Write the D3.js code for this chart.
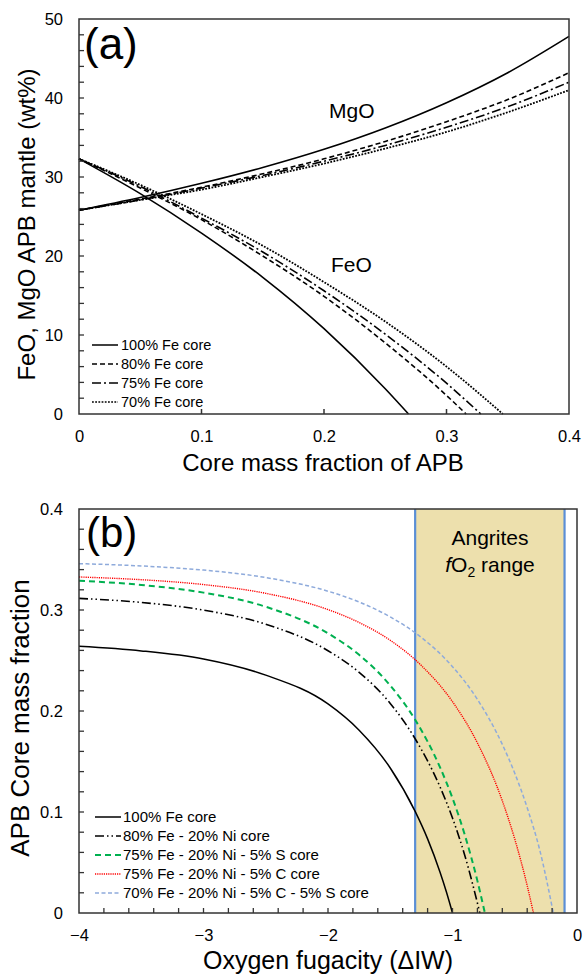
<!DOCTYPE html>
<html><head><meta charset="utf-8">
<script src="https://cdn.jsdelivr.net/npm/d3@7"></script>
<style>body{margin:0;background:#fff}svg{display:block}text{font-family:"Liberation Sans",Arial,sans-serif;fill:#000}</style>
</head><body>
<script>
// ---------- Panel (a) data ----------
const cmfA = [0, 0.05, 0.1, 0.15, 0.2, 0.25, 0.3, 0.35, 0.4];
const mgo100 = [25.8, 27.4, 29.2, 31.2, 33.5, 36.2, 39.4, 43.2, 47.8];
const mgo80  = [25.8, 27.2, 28.7, 30.4, 32.3, 34.5, 37.0, 39.8, 43.2];
const mgo75  = [25.8, 27.1, 28.6, 30.2, 32.0, 34.0, 36.3, 38.9, 42.0];
const mgo70  = [25.8, 27.1, 28.4, 30.0, 31.7, 33.6, 35.7, 38.2, 41.0];
const feoX100 = [0, 0.05, 0.1, 0.15, 0.2, 0.25, 0.269];
const feo100  = [32.3, 27.9, 22.9, 17.3, 10.8, 3.2, 0];
const feoX80  = [0, 0.05, 0.1, 0.15, 0.2, 0.25, 0.3, 0.316];
const feo80   = [32.3, 28.6, 24.6, 20.0, 14.9, 9.0, 2.35, 0];
const feoX75  = [0, 0.05, 0.1, 0.15, 0.2, 0.25, 0.3, 0.328];
const feo75   = [32.3, 28.8, 24.8, 20.5, 15.6, 10.1, 3.9, 0];
const feoX70  = [0, 0.05, 0.1, 0.15, 0.2, 0.25, 0.3, 0.346];
const feo70   = [32.3, 29.0, 25.3, 21.3, 16.7, 11.7, 6.0, 0];
const legendA = ["100% Fe core", "80% Fe core", "75% Fe core", "70% Fe core"];
const xTicksA = [0, 0.1, 0.2, 0.3, 0.4];
const yTicksA = [0, 10, 20, 30, 40, 50];

// ---------- Panel (b) data ----------
const iwX100 = [-4, -3.5, -3, -2.5, -2, -1.75, -1.5, -1.3, -1.2, -1.1, -1.05, -1.0];
const cmf100 = [0.264, 0.2595, 0.2515, 0.2355, 0.207, 0.181, 0.1436, 0.1006, 0.0734, 0.0404, 0.0213, 0];
const iwX80 = [-4, -3.5, -3, -2.5, -2, -1.75, -1.5, -1.3, -1.1, -1.0, -0.9, -0.78];
const cmf80 = [0.3115, 0.3075, 0.2999, 0.2859, 0.2597, 0.2383, 0.2075, 0.1725, 0.1248, 0.094, 0.0565, 0];
const iwX75S = [-4, -3.5, -3, -2.5, -2, -1.75, -1.5, -1.3, -1.1, -1.0, -0.9, -0.8, -0.74];
const cmf75S = [0.329, 0.3248, 0.3172, 0.3032, 0.2769, 0.2556, 0.2252, 0.1913, 0.1442, 0.1137, 0.0768, 0.0318, 0];
const iwX75C = [-4, -3.5, -3, -2.5, -2, -1.75, -1.5, -1.25, -1.0, -0.8, -0.6, -0.5, -0.4, -0.35];
const cmf75C = [0.3327, 0.330, 0.3252, 0.3165, 0.3004, 0.2876, 0.270, 0.245, 0.2092, 0.1684, 0.1111, 0.0732, 0.0271, 0];
const iwX70 = [-4, -3.5, -3, -2.5, -2, -1.75, -1.5, -1.25, -1.0, -0.8, -0.6, -0.5, -0.4, -0.3, -0.19];
const cmf70 = [0.3459, 0.3436, 0.3395, 0.3321, 0.3186, 0.3079, 0.2932, 0.2728, 0.2439, 0.2115, 0.167, 0.1384, 0.1042, 0.0627, 0];
const legendB = ["100% Fe core", "80% Fe - 20% Ni core", "75% Fe - 20% Ni - 5% S core",
                 "75% Fe - 20% Ni - 5% C core", "70% Fe - 20% Ni - 5% C - 5% S core"];
const angriteRange = [-1.3, -0.1];
const xTicksB = [-4, -3, -2, -1, 0];
const yTicksB = [0, 0.1, 0.2, 0.3, 0.4];

const W = 583, H = 975;
const svg = d3.select("body").append("svg").attr("width", W).attr("height", H);
const axisColor = "#333";
const tickFont = 16.5, titleFont = 24;

function zip(xs, ys) { return xs.map((x, i) => [x, ys[i]]); }

// ================= Panel (a) =================
const ax = d3.scaleLinear().domain([0, 0.4]).range([79, 569]);
const ay = d3.scaleLinear().domain([0, 50]).range([414, 19]);
const gA = svg.append("g");
const lineA = d3.line().x(d => ax(d[0])).y(d => ay(d[1])).curve(d3.curveMonotoneX);

const stylesA = [
  {dash: null, w: 1.6},
  {dash: "5,3", w: 1.6},
  {dash: "9,3,2,3", w: 1.6},
  {dash: "1.8,1.4", w: 1.8}
];
const mgoSets = [mgo100, mgo80, mgo75, mgo70];
const feoSets = [[feoX100, feo100], [feoX80, feo80], [feoX75, feo75], [feoX70, feo70]];
mgoSets.forEach((ys, i) => {
  gA.append("path").datum(zip(cmfA, ys)).attr("d", lineA).attr("fill", "none")
    .attr("stroke", "#000").attr("stroke-width", stylesA[i].w)
    .attr("stroke-dasharray", stylesA[i].dash);
});
feoSets.forEach((s, i) => {
  gA.append("path").datum(zip(s[0], s[1])).attr("d", lineA).attr("fill", "none")
    .attr("stroke", "#000").attr("stroke-width", stylesA[i].w)
    .attr("stroke-dasharray", stylesA[i].dash);
});

gA.append("rect").attr("x", ax(0)).attr("y", ay(50)).attr("width", ax(0.4) - ax(0)).attr("height", ay(0) - ay(50))
  .attr("fill", "none").attr("stroke", axisColor).attr("stroke-width", 1.5);

const xAxisA = d3.axisBottom(ax).tickValues(xTicksA).tickSize(0).tickPadding(16).tickFormat(d => d === 0 ? "0" : d3.format(".1f")(d));
const gxA = gA.append("g").attr("transform", `translate(0,${ay(0)})`).call(xAxisA);
gxA.select(".domain").remove();
gxA.selectAll("text").attr("font-size", tickFont).attr("font-family", '"Liberation Sans",Arial,sans-serif');
gA.selectAll(".xta").data(xTicksA.filter(d => d > 0 && d < 0.4)).enter().append("line")
  .attr("x1", d => ax(d)).attr("x2", d => ax(d)).attr("y1", ay(0)).attr("y2", ay(0) - 5)
  .attr("stroke", axisColor).attr("stroke-width", 1.5);

const yAxisA = d3.axisLeft(ay).tickValues(yTicksA).tickSize(0).tickPadding(16);
const gyA = gA.append("g").attr("transform", `translate(${ax(0)},0)`).call(yAxisA);
gyA.select(".domain").remove();
gyA.selectAll("text").attr("font-size", tickFont).attr("font-family", '"Liberation Sans",Arial,sans-serif');
gA.selectAll(".yta").data(d3.range(2, 50, 2)).enter().append("line")
  .attr("x1", ax(0)).attr("x2", ax(0) + 5).attr("y1", d => ay(d)).attr("y2", d => ay(d))
  .attr("stroke", axisColor).attr("stroke-width", 1.3);

gA.append("text").attr("x", 323).attr("y", 471).attr("text-anchor", "middle").attr("font-size", titleFont).text("Core mass fraction of APB");
gA.append("text").attr("transform", `translate(35,${(ay(0) + ay(50)) / 2 + 8}) rotate(-90)`).attr("text-anchor", "middle")
  .attr("font-size", titleFont).text("FeO, MgO APB mantle (wt%)");
gA.append("text").attr("x", 84).attr("y", 59).attr("font-size", 44).text("(a)");
gA.append("text").attr("x", 329).attr("y", 118).attr("font-size", 21).text("MgO");
gA.append("text").attr("x", 331).attr("y", 272).attr("font-size", 21).text("FeO");

legendA.forEach((t, i) => {
  const y = 345 + i * 19;
  gA.append("line").attr("x1", 92).attr("x2", 118).attr("y1", y).attr("y2", y)
    .attr("stroke", "#000").attr("stroke-width", 1.5).attr("stroke-dasharray", stylesA[i].dash);
  gA.append("text").attr("x", 121).attr("y", y + 5).attr("font-size", 14.5).text(t);
});

// ================= Panel (b) =================
const bx = d3.scaleLinear().domain([-4, 0]).range([79, 577]);
const by = d3.scaleLinear().domain([0, 0.4]).range([913, 509]);
const gB = svg.append("g");
const lineB = d3.line().x(d => bx(d[0])).y(d => by(d[1])).curve(d3.curveMonotoneX);

gB.append("rect").attr("x", bx(angriteRange[0])).attr("y", by(0.4)).attr("width", bx(angriteRange[1]) - bx(angriteRange[0]))
  .attr("height", by(0) - by(0.4)).attr("fill", "#ede0ad");
angriteRange.forEach(v => {
  gB.append("line").attr("x1", bx(v)).attr("x2", bx(v)).attr("y1", by(0.4)).attr("y2", by(0))
    .attr("stroke", "#5b8fd6").attr("stroke-width", 2.2);
});
gB.append("text").attr("x", 490).attr("y", 545).attr("text-anchor", "middle").attr("font-size", 21).text("Angrites");
const t2 = gB.append("text").attr("x", 490).attr("y", 572).attr("text-anchor", "middle").attr("font-size", 21);
t2.append("tspan").attr("font-style", "italic").text("f");
t2.append("tspan").text("O");
t2.append("tspan").attr("font-size", 14).attr("dy", 5).text("2");
t2.append("tspan").attr("dy", -5).text(" range");

const stylesB = [
  {c: "#000", dash: null, w: 1.5},
  {c: "#000", dash: "9,3,1.5,3,1.5,3", w: 1.6},
  {c: "#00b050", dash: "6,4", w: 2},
  {c: "#ff0000", dash: "1.2,1", w: 1.4},
  {c: "#8eaadb", dash: "4,2.5", w: 1.5}
];
const setsB = [[iwX100, cmf100], [iwX80, cmf80], [iwX75S, cmf75S], [iwX75C, cmf75C], [iwX70, cmf70]];
setsB.forEach((s, i) => {
  gB.append("path").datum(zip(s[0], s[1])).attr("d", lineB).attr("fill", "none")
    .attr("stroke", stylesB[i].c).attr("stroke-width", stylesB[i].w).attr("stroke-dasharray", stylesB[i].dash);
});

gB.append("rect").attr("x", bx(-4)).attr("y", by(0.4)).attr("width", bx(0) - bx(-4)).attr("height", by(0) - by(0.4))
  .attr("fill", "none").attr("stroke", axisColor).attr("stroke-width", 1.5);

const xAxisB = d3.axisBottom(bx).tickValues(xTicksB).tickSize(0).tickPadding(16).tickFormat(d3.format("d"));
const gxB = gB.append("g").attr("transform", `translate(0,${by(0)})`).call(xAxisB);
gxB.select(".domain").remove();
gxB.selectAll("text").attr("font-size", tickFont).attr("font-family", '"Liberation Sans",Arial,sans-serif');
gB.selectAll(".xtb").data(d3.range(1, 20).map(i => -4 + i * 0.2)).enter().append("line")
  .attr("x1", d => bx(d)).attr("x2", d => bx(d)).attr("y1", by(0)).attr("y2", by(0) - 5)
  .attr("stroke", axisColor).attr("stroke-width", 1.3);

const yAxisB = d3.axisLeft(by).tickValues(yTicksB).tickSize(0).tickPadding(16).tickFormat(d => d === 0 ? "0" : d3.format(".1f")(d));
const gyB = gB.append("g").attr("transform", `translate(${bx(-4)},0)`).call(yAxisB);
gyB.select(".domain").remove();
gyB.selectAll("text").attr("font-size", tickFont).attr("font-family", '"Liberation Sans",Arial,sans-serif');
gB.selectAll(".ytb").data(d3.range(1, 20).map(i => i * 0.02)).enter().append("line")
  .attr("x1", bx(-4)).attr("x2", bx(-4) + 5).attr("y1", d => by(d)).attr("y2", d => by(d))
  .attr("stroke", axisColor).attr("stroke-width", 1.3);

gB.append("text").attr("x", 328).attr("y", 969).attr("text-anchor", "middle").attr("font-size", 25).text("Oxygen fugacity (ΔIW)");
gB.append("text").attr("transform", `translate(29,718) rotate(-90)`).attr("text-anchor", "middle")
  .attr("font-size", 26).text("APB Core mass fraction");
gB.append("text").attr("x", 86).attr("y", 547).attr("font-size", 42).text("(b)");

legendB.forEach((t, i) => {
  const y = 817 + i * 19;
  gB.append("line").attr("x1", 95).attr("x2", 121).attr("y1", y).attr("y2", y)
    .attr("stroke", stylesB[i].c).attr("stroke-width", stylesB[i].w).attr("stroke-dasharray", stylesB[i].dash);
  gB.append("text").attr("x", 123).attr("y", y + 5).attr("font-size", 15).text(t);
});
</script>
</body></html>
